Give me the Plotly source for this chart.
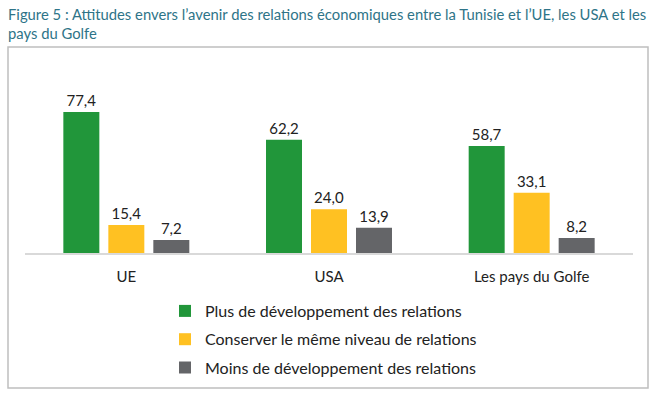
import plotly.graph_objects as go

categories = ["UE", "USA", "Les pays du Golfe"]
series_names = [
    "Plus de développement des relations",
    "Conserver le même niveau de relations",
    "Moins de développement des relations",
]
plus_dev = [77.4, 62.2, 58.7]
conserver = [15.4, 24.0, 33.1]
moins_dev = [7.2, 13.9, 8.2]
colors = ["#21963A", "#FFC122", "#646568"]
title_text = ("Figure 5 : Attitudes envers l’avenir des relations économiques entre la Tunisie et l’UE, les USA et les"
              "<br>pays du Golfe")

W, H = 660, 399
L, R, T, B = 25, 27, 89, 146
pw, ph = W - L - R, H - T - B

def px_x(x):
    return (x - L) / pw

def px_y(y):
    return (H - B - y) / ph

fig = go.Figure()
for name, vals, col in zip(series_names, [plus_dev, conserver, moins_dev], colors):
    fig.add_trace(go.Bar(
        x=categories, y=vals, name=name, marker_color=col,
        marker_line_width=0,
        text=[f"{v:.1f}".replace(".", ",") for v in vals],
        textposition="outside", cliponaxis=False,
        textfont=dict(size=15, color="#222222"),
        legendgroup=name,
    ))

fig.update_layout(
    width=W, height=H,
    margin=dict(l=L, r=R, t=T, b=B),
    paper_bgcolor="white", plot_bgcolor="white",
    font=dict(family="Lato, Open Sans, sans-serif", color="#222222"),
    barmode="group", bargap=0.334, bargroupgap=0.2,
    showlegend=True,
    legend=dict(
        x=px_x(165), y=px_y(294), xanchor="left", yanchor="top",
        orientation="v", font=dict(size=16, color="#222222"),
        traceorder="grouped", tracegroupgap=4.5, itemwidth=30,
        bgcolor="rgba(0,0,0,0)",
    ),
    annotations=[dict(
        text=title_text, xref="paper", yref="paper",
        x=px_x(6), xanchor="left", y=px_y(3), yanchor="top",
        align="left", showarrow=False,
        font=dict(size=14.8, color="#2E7488", family="Lato, Open Sans, sans-serif"),
    )],
    xaxis=dict(
        showline=True, linecolor="#D9D9D9", linewidth=1.5,
        ticks="outside", ticklen=9, tickcolor="rgba(0,0,0,0)",
        tickfont=dict(size=15, color="#222222"), showgrid=False,
    ),
    yaxis=dict(range=[0, 90], visible=False, showgrid=False, zeroline=False),
    shapes=[dict(
        type="rect", xref="paper", yref="paper",
        x0=px_x(8), x1=px_x(648), y0=px_y(388), y1=px_y(47),
        line=dict(color="#BFBFBF", width=1.5), layer="below",
    )],
)

fig.write_html("out.html", config={"displayModeBar": False})
with open("out.html", encoding="utf-8") as f:
    html = f.read()
html = html.replace("<body>", '<body style="margin:0">', 1)
with open("out.html", "w", encoding="utf-8") as f:
    f.write(html)
